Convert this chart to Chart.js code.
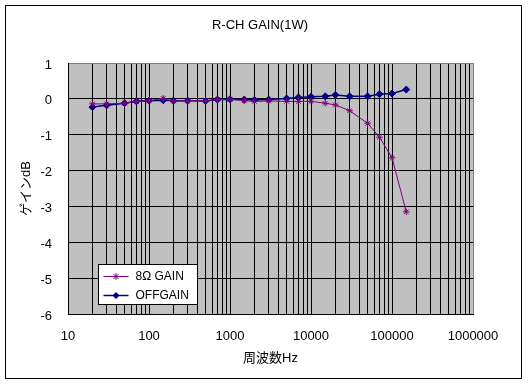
<!DOCTYPE html>
<html><head><meta charset="utf-8">
<script src="https://cdn.jsdelivr.net/npm/chart.js@4.4.0/dist/chart.umd.min.js"></script>
<style>html,body{margin:0;padding:0;background:#fff;}canvas{display:block;}</style>
</head><body>
<canvas id="c" width="530" height="385"></canvas>
<script>
const chartTitle = 'R-CH GAIN(1W)';
const xAxisTitle = '周波数Hz';
const yAxisTitle = 'ゲインdB';
const seriesLabels = ['8Ω GAIN', 'OFFGAIN'];
const freqs = [20, 30, 50, 70, 100, 150, 200, 300, 500, 700, 1000, 1500, 2000, 3000, 5000, 7000, 10000, 15000, 20000, 30000, 50000, 70000, 100000, 150000];
const gain8ohm = [-0.14, -0.14, -0.12, -0.07, -0.05, 0.01, -0.06, -0.06, -0.05, -0.02, -0.01, -0.05, -0.07, -0.06, -0.07, -0.07, -0.07, -0.12, -0.17, -0.33, -0.68, -1.07, -1.64, -3.15];
const offGain = [-0.23, -0.18, -0.12, -0.07, -0.05, -0.04, -0.05, -0.05, -0.06, -0.02, -0.01, -0.02, -0.03, -0.02, 0.01, 0.04, 0.06, 0.07, 0.11, 0.07, 0.07, 0.13, 0.15, 0.26];
const xDecades = [10, 100, 1000, 10000, 100000, 1000000];
const yMin = -6, yMax = 1, yStep = 1;

const FONT = '"Liberation Sans", "Noto Sans CJK JP", Arial, sans-serif';
const PURPLE = '#800080', NAVY = '#000080';

const pts = (arr) => freqs.map((f, i) => ({x: f, y: arr[i]}));

const deco = {
  id: 'deco',
  beforeDraw(chart) {
    const {ctx, chartArea: a} = chart;
    ctx.save();
    ctx.fillStyle = '#fff';
    ctx.fillRect(0, 0, chart.width, chart.height);
    ctx.fillStyle = '#C0C0C0';
    ctx.fillRect(a.left, a.top, a.right - a.left, a.bottom - a.top);
    ctx.restore();
  },
  afterDraw(chart) {
    const {ctx, chartArea: a} = chart;
    ctx.save();
    // outer frame
    ctx.strokeStyle = '#000';
    ctx.lineWidth = 1;
    ctx.strokeRect(5.5, 5.5, 516, 373);
    // title
    ctx.fillStyle = '#000';
    ctx.font = '13px ' + FONT;
    ctx.textAlign = 'center';
    ctx.textBaseline = 'middle';
    ctx.fillText(chartTitle, 260, 25);
    // legend
    const lx = a.left + 30.5, ly = a.top + 201.5, lw = 99, lh = 40;
    ctx.fillStyle = '#fff';
    ctx.fillRect(lx, ly, lw, lh);
    ctx.strokeStyle = '#000';
    ctx.strokeRect(lx, ly, lw, lh);
    chart.data.datasets.forEach((ds, i) => {
      const cy = Math.round(ly + 11 + i * 19) + 0.5;
      const x0 = lx + 5, x1 = lx + 30, mx = (x0 + x1) / 2;
      ctx.strokeStyle = ds.borderColor;
      ctx.lineWidth = ds.borderWidth;
      ctx.beginPath(); ctx.moveTo(x0, cy); ctx.lineTo(x1, cy); ctx.stroke();
      const r = ds.pointRadius;
      if (ds.pointStyle === 'rectRot') {
        ctx.fillStyle = ds.pointBackgroundColor;
        ctx.beginPath();
        ctx.moveTo(mx, cy - r); ctx.lineTo(mx + r, cy); ctx.lineTo(mx, cy + r); ctx.lineTo(mx - r, cy);
        ctx.closePath(); ctx.fill();
      } else {
        ctx.lineWidth = 1;
        ctx.beginPath();
        const d = r * 0.75;
        ctx.moveTo(mx - d, cy - d); ctx.lineTo(mx + d, cy + d);
        ctx.moveTo(mx + d, cy - d); ctx.lineTo(mx - d, cy + d);
        ctx.moveTo(mx, cy - r); ctx.lineTo(mx, cy + r);
        ctx.stroke();
      }
      ctx.fillStyle = '#000';
      ctx.font = '12px ' + FONT;
      ctx.textAlign = 'left';
      ctx.textBaseline = 'middle';
      ctx.fillText(ds.label, lx + 37, cy);
    });
    ctx.restore();
  }
};

new Chart(document.getElementById('c'), {
  type: 'line',
  data: {
    datasets: [
      {label: seriesLabels[0], data: pts(gain8ohm), borderColor: PURPLE, backgroundColor: PURPLE,
       pointBackgroundColor: PURPLE, pointBorderColor: PURPLE, borderWidth: 1, pointBorderWidth: 1,
       pointStyle: 'star', pointRadius: 3.3, tension: 0},
      {label: seriesLabels[1], data: pts(offGain), borderColor: NAVY, backgroundColor: NAVY,
       pointBackgroundColor: NAVY, pointBorderColor: NAVY, borderWidth: 1.5, pointBorderWidth: 1,
       pointStyle: 'rectRot', pointRadius: 3.5, tension: 0}
    ]
  },
  options: {
    responsive: false,
    animation: false,
    layout: {padding: {top: 63, right: 57, left: 0, bottom: 0}},
    plugins: {legend: {display: false}, title: {display: false}, tooltip: {enabled: false}},
    scales: {
      x: {
        type: 'logarithmic',
        min: xDecades[0], max: xDecades[xDecades.length - 1],
        afterBuildTicks(scale) {
          const t = [];
          for (let i = 0; i < xDecades.length - 1; i++) {
            for (let k = 1; k <= 9; k++) t.push({value: k * xDecades[i]});
          }
          t.push({value: xDecades[xDecades.length - 1]});
          scale.ticks = t;
        },
        afterFit(scale) { scale.height = 71; },
        grid: {
          color: (c) => (c.tick && c.tick.value === xDecades[xDecades.length - 1]) ? '#808080' : '#000',
          lineWidth: 1, drawTicks: false
        },
        border: {color: '#000', width: 1},
        ticks: {
          autoSkip: false, maxRotation: 0, minRotation: 0, padding: 15, color: '#000',
          font: {family: FONT, size: 13},
          callback: (v) => xDecades.includes(v) ? String(v) : ''
        },
        title: {display: true, text: xAxisTitle, color: '#000', font: {family: FONT, size: 13},
                padding: {top: 0, bottom: 18.5}}
      },
      y: {
        type: 'linear',
        min: yMin, max: yMax,
        afterFit(scale) { scale.width = 68; },
        grid: {
          color: (c) => (c.tick && c.tick.value === yMax) ? '#808080' : '#000',
          lineWidth: 1, drawTicks: false
        },
        border: {color: '#000', width: 1},
        ticks: {stepSize: yStep, padding: 16, labelOffset: 2, color: '#000', font: {family: FONT, size: 13}},
        title: {display: true, text: yAxisTitle, color: '#000', font: {family: FONT, size: 13},
                padding: {top: 19, bottom: 0}}
      }
    }
  },
  plugins: [deco]
});
</script>
</body></html>
